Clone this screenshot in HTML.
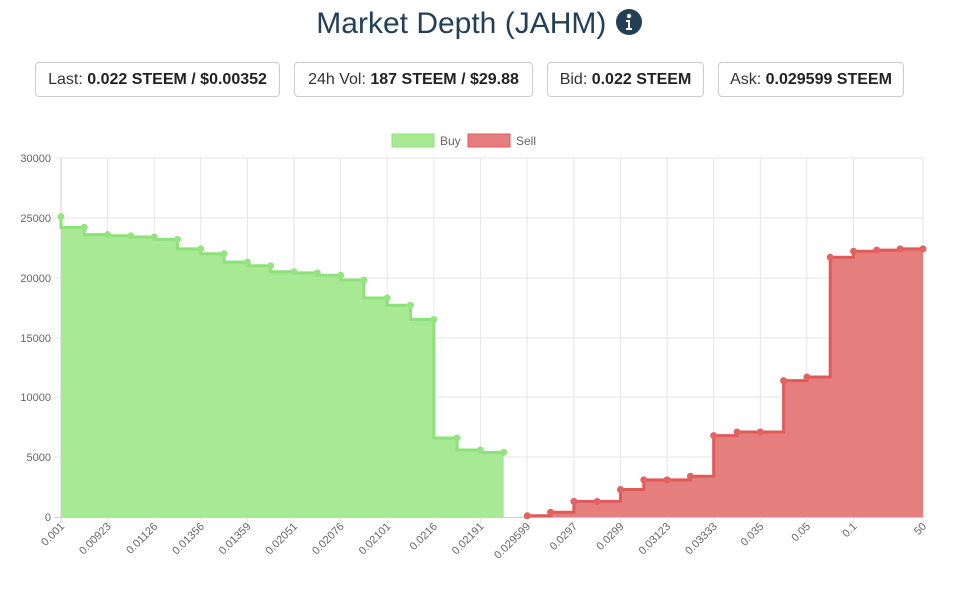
<!DOCTYPE html>
<html><head><meta charset="utf-8"><style>
body{margin:0;width:959px;height:595px;background:#fff;font-family:"Liberation Sans",sans-serif;position:relative;overflow:hidden}
.t{position:absolute;top:7px;left:0;width:959px;text-align:center;font-size:30px;color:#223f56;font-family:"Liberation Sans",sans-serif}
.b{position:absolute;top:62px;height:33px;border:1px solid #ccc;border-radius:4px;font-size:16px;line-height:33px;text-align:center;color:#333}
.b span{font-weight:bold;color:#222}
</style></head><body>
<div class="t">Market Depth (JAHM) <svg width="28" height="28" viewBox="0 0 28 28" style="vertical-align:-3px"><circle cx="14" cy="14" r="13" fill="#223f56"/><circle cx="14" cy="8" r="2.2" fill="#fff"/><path d="M11 12h4v8h2v2h-6v-2h2v-6h-2z" fill="#fff"/></svg></div>
<div class="b" style="left:35px;width:243px">Last: <span>0.022 STEEM / $0.00352</span></div>
<div class="b" style="left:294px;width:237px">24h Vol: <span>187 STEEM / $29.88</span></div>
<div class="b" style="left:547px;width:155px">Bid: <span>0.022 STEEM</span></div>
<div class="b" style="left:718px;width:184px">Ask: <span>0.029599 STEEM</span></div>
<svg width="959" height="595" style="position:absolute;left:0;top:0" font-family="Liberation Sans, sans-serif" font-size="12" fill="#666">
<rect x="392" y="134" width="42" height="13" fill="#a8e994" stroke="#8ee07a"/>
<text x="440" y="145">Buy</text>
<rect x="468" y="134" width="42" height="13" fill="#e57f7d" stroke="#e05a5a"/>
<text x="516" y="145">Sell</text>
<g stroke="#e6e6e6" stroke-width="1">
<line x1="55" y1="158" x2="923" y2="158"/><line x1="55" y1="218" x2="923" y2="218"/><line x1="55" y1="278" x2="923" y2="278"/><line x1="55" y1="338" x2="923" y2="338"/><line x1="55" y1="397" x2="923" y2="397"/><line x1="55" y1="457" x2="923" y2="457"/>
<line x1="107.6" y1="158" x2="107.6" y2="523"/><line x1="154.2" y1="158" x2="154.2" y2="523"/><line x1="200.8" y1="158" x2="200.8" y2="523"/><line x1="247.4" y1="158" x2="247.4" y2="523"/><line x1="294" y1="158" x2="294" y2="523"/><line x1="340.6" y1="158" x2="340.6" y2="523"/><line x1="387.2" y1="158" x2="387.2" y2="523"/><line x1="433.8" y1="158" x2="433.8" y2="523"/><line x1="480.4" y1="158" x2="480.4" y2="523"/><line x1="527" y1="158" x2="527" y2="523"/><line x1="573.9" y1="158" x2="573.9" y2="523"/><line x1="620.5" y1="158" x2="620.5" y2="523"/><line x1="667.1" y1="158" x2="667.1" y2="523"/><line x1="713.7" y1="158" x2="713.7" y2="523"/><line x1="760.3" y1="158" x2="760.3" y2="523"/><line x1="806.9" y1="158" x2="806.9" y2="523"/><line x1="853.5" y1="158" x2="853.5" y2="523"/><line x1="923" y1="158" x2="923" y2="523"/>
</g>
<line x1="61" y1="158" x2="61" y2="523" stroke="#ccc"/>
<line x1="55" y1="517.5" x2="923" y2="517.5" stroke="#ccc"/>
<g text-anchor="end" font-size="11">
<text x="51" y="162">30000</text><text x="51" y="222">25000</text><text x="51" y="282">20000</text><text x="51" y="342">15000</text><text x="51" y="401">10000</text><text x="51" y="461">5000</text><text x="51" y="521">0</text>
</g>
<path d="M61,216.6 V227.4 H84.3 V234.6 H107.6 V235.8 H130.9 V237.0 H154.2 V239.4 H177.5 V248.9 H200.8 V253.7 H224.1 V262.1 H247.4 V265.7 H270.7 V271.7 H294 V272.9 H317.3 V275.3 H340.6 V280.1 H363.9 V298.0 H387.2 V305.2 H410.5 V319.5 H433.8 V438.0 H457.1 V450.0 H480.4 V452.4 H503.7 V517 H61 Z" fill="#a8e994"/>
<path d="M61,216.6 V227.4 H84.3 V234.6 H107.6 V235.8 H130.9 V237.0 H154.2 V239.4 H177.5 V248.9 H200.8 V253.7 H224.1 V262.1 H247.4 V265.7 H270.7 V271.7 H294 V272.9 H317.3 V275.3 H340.6 V280.1 H363.9 V298.0 H387.2 V305.2 H410.5 V319.5 H433.8 V438.0 H457.1 V450.0 H480.4 V452.4 H503.7" fill="none" stroke="#8ee07a" stroke-width="3"/>
<path d="M527.3,515.8 H550.6 V512.2 H573.9 V501.4 H620.5 V489.5 H643.8 V479.9 H690.4 V476.3 H713.7 V435.6 H737 V432.0 H783.6 V380.6 H806.9 V377.0 H830.2 V257.3 H853.5 V251.3 H876.8 V250.1 H900.1 V248.9 H923 V517 H527.3 Z" fill="#e57f7d"/>
<path d="M527.3,515.8 H550.6 V512.2 H573.9 V501.4 H620.5 V489.5 H643.8 V479.9 H690.4 V476.3 H713.7 V435.6 H737 V432.0 H783.6 V380.6 H806.9 V377.0 H830.2 V257.3 H853.5 V251.3 H876.8 V250.1 H900.1 V248.9 H923" fill="none" stroke="#e05a5a" stroke-width="3"/>
<g fill="#96e382">
<circle cx="61" cy="216.6" r="3.5"/><circle cx="84.3" cy="227.4" r="3.5"/><circle cx="107.6" cy="234.6" r="3.5"/><circle cx="130.9" cy="235.8" r="3.5"/><circle cx="154.2" cy="237" r="3.5"/><circle cx="177.5" cy="239.4" r="3.5"/><circle cx="200.8" cy="248.9" r="3.5"/><circle cx="224.1" cy="253.7" r="3.5"/><circle cx="247.4" cy="262.1" r="3.5"/><circle cx="270.7" cy="265.7" r="3.5"/><circle cx="294" cy="271.7" r="3.5"/><circle cx="317.3" cy="272.9" r="3.5"/><circle cx="340.6" cy="275.3" r="3.5"/><circle cx="363.9" cy="280.1" r="3.5"/><circle cx="387.2" cy="298" r="3.5"/><circle cx="410.5" cy="305.2" r="3.5"/><circle cx="433.8" cy="319.5" r="3.5"/><circle cx="457.1" cy="438" r="3.5"/><circle cx="480.4" cy="450" r="3.5"/><circle cx="503.7" cy="452.4" r="3.5"/>
</g>
<g fill="#e06462">
<circle cx="527.3" cy="515.8" r="3.5"/><circle cx="550.6" cy="512.2" r="3.5"/><circle cx="573.9" cy="501.4" r="3.5"/><circle cx="597.2" cy="501.4" r="3.5"/><circle cx="620.5" cy="489.5" r="3.5"/><circle cx="643.8" cy="479.9" r="3.5"/><circle cx="667.1" cy="479.9" r="3.5"/><circle cx="690.4" cy="476.3" r="3.5"/><circle cx="713.7" cy="435.6" r="3.5"/><circle cx="737" cy="432" r="3.5"/><circle cx="760.3" cy="432" r="3.5"/><circle cx="783.6" cy="380.6" r="3.5"/><circle cx="806.9" cy="377" r="3.5"/><circle cx="830.2" cy="257.3" r="3.5"/><circle cx="853.5" cy="251.3" r="3.5"/><circle cx="876.8" cy="250.1" r="3.5"/><circle cx="900.1" cy="248.9" r="3.5"/><circle cx="923" cy="248.9" r="3.5"/>
</g>
<g text-anchor="end" font-size="11">
<text transform="translate(65,527) rotate(-45)">0.001</text>
<text transform="translate(111.6,527) rotate(-45)">0.00923</text>
<text transform="translate(158.2,527) rotate(-45)">0.01126</text>
<text transform="translate(204.8,527) rotate(-45)">0.01356</text>
<text transform="translate(251.4,527) rotate(-45)">0.01359</text>
<text transform="translate(298,527) rotate(-45)">0.02051</text>
<text transform="translate(344.6,527) rotate(-45)">0.02076</text>
<text transform="translate(391.2,527) rotate(-45)">0.02101</text>
<text transform="translate(437.8,527) rotate(-45)">0.0216</text>
<text transform="translate(484.4,527) rotate(-45)">0.02191</text>
<text transform="translate(531,527) rotate(-45)">0.029599</text>
<text transform="translate(577.9,527) rotate(-45)">0.0297</text>
<text transform="translate(624.5,527) rotate(-45)">0.0299</text>
<text transform="translate(671.1,527) rotate(-45)">0.03123</text>
<text transform="translate(717.7,527) rotate(-45)">0.03333</text>
<text transform="translate(764.3,527) rotate(-45)">0.035</text>
<text transform="translate(810.9,527) rotate(-45)">0.05</text>
<text transform="translate(857.5,527) rotate(-45)">0.1</text>
<text transform="translate(927,527) rotate(-45)">50</text>
</g>
</svg>
</body></html>
